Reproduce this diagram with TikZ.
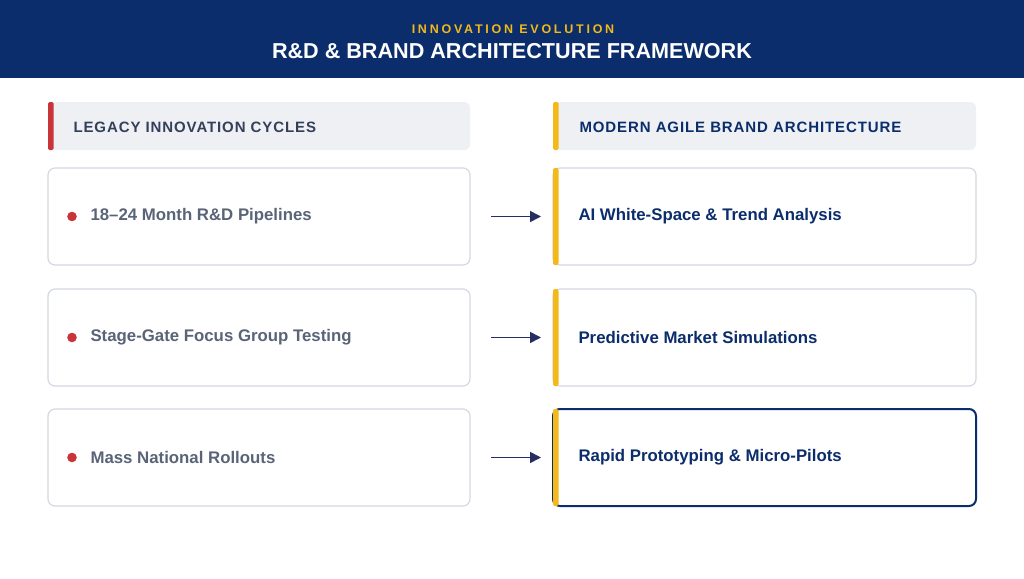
\documentclass[tikz,border=0pt]{standalone}
\usepackage{fontspec}
\setmainfont{Liberation Sans}
\usetikzlibrary{arrows.meta}
\definecolor{navy}{HTML}{0B2D6B}
\definecolor{gold}{HTML}{F2B918}
\definecolor{redc}{HTML}{C8343A}
\definecolor{hdrbg}{HTML}{EEF0F4}
\definecolor{graytxt}{HTML}{5A6478}
\definecolor{darktxt}{HTML}{34405A}
\definecolor{cardline}{HTML}{D3D9E3}
\begin{document}
\begin{tikzpicture}[x=1pt,y=-1pt,
  hdr/.style={fill=hdrbg,rounded corners=6pt},
  card/.style={draw=cardline,line width=1.2pt,fill=white,rounded corners=7pt},
  lt/.style={anchor=west,font=\bfseries\fontsize{16.8}{20}\selectfont,text=graytxt},
  rt/.style={anchor=west,font=\bfseries\fontsize{16.8}{20}\selectfont,text=navy},
  ht/.style={anchor=west,font=\bfseries\fontsize{15}{18}\selectfont\addfontfeature{LetterSpace=6}},
  arr/.style={-{Triangle[length=11pt,width=11pt]},line width=1.6pt,draw=navy!85!redc}]
\useasboundingbox (0,0) rectangle (1024,578);
\fill[white] (0,0) rectangle (1024,578);
\fill[navy] (0,0) rectangle (1024,78);
\node[font=\bfseries\fontsize{12.5}{14}\selectfont,text=gold] (sub) at (513,29) {\addfontfeature{LetterSpace=22}INNOVATION EVOLUTION};
\node[font=\bfseries\fontsize{21.6}{26}\selectfont,text=white] (title) at (512,51) {R\&D \& BRAND ARCHITECTURE FRAMEWORK};
% headers
\fill[hdr] (48,102) rectangle (470,150);
\fill[redc,rounded corners=1.5pt] (48,102) rectangle (53.5,150);
\node[ht,text=darktxt] (lh) at (70,127) {LEGACY INNOVATION CYCLES};
\fill[hdr] (553,102) rectangle (976,150);
\fill[gold,rounded corners=1.5pt] (553,102) rectangle (558.5,150);
\node[ht,text=navy] (rh) at (576,127) {MODERN AGILE BRAND ARCHITECTURE};
% cards
\foreach \y/\lab/\rlab/\i in {168/18--24 Month R\&D Pipelines/AI White-Space \& Trend Analysis/1,
  289/Stage-Gate Focus Group Testing/Predictive Market Simulations/2,
  409/Mass National Rollouts/Rapid Prototyping \& Micro-Pilots/3}{
  \draw[card] (48,\y) rectangle (470,\y+97);
  \fill[redc] (72,\y+48.5) circle (4.8);
  \node[lt] (l\i) at (87,\y+48.5) {\lab};
  \ifnum\i=3
    \draw[draw=navy,line width=2pt,fill=white,rounded corners=7pt] (553,\y) rectangle (976,\y+97);
  \else
    \draw[card] (553,\y) rectangle (976,\y+97);
  \fi
  \fill[gold,rounded corners=2pt] (553,\y) rectangle (558.5,\y+97);
  \node[rt] (r\i) at (575,\y+48.5) {\rlab};
  \coordinate (a\i) at (491,\y+48.5);
  \coordinate (b\i) at (541,\y+48.5);
  \draw[arr] (a\i) -- (b\i);
}
\end{tikzpicture}
\end{document}
